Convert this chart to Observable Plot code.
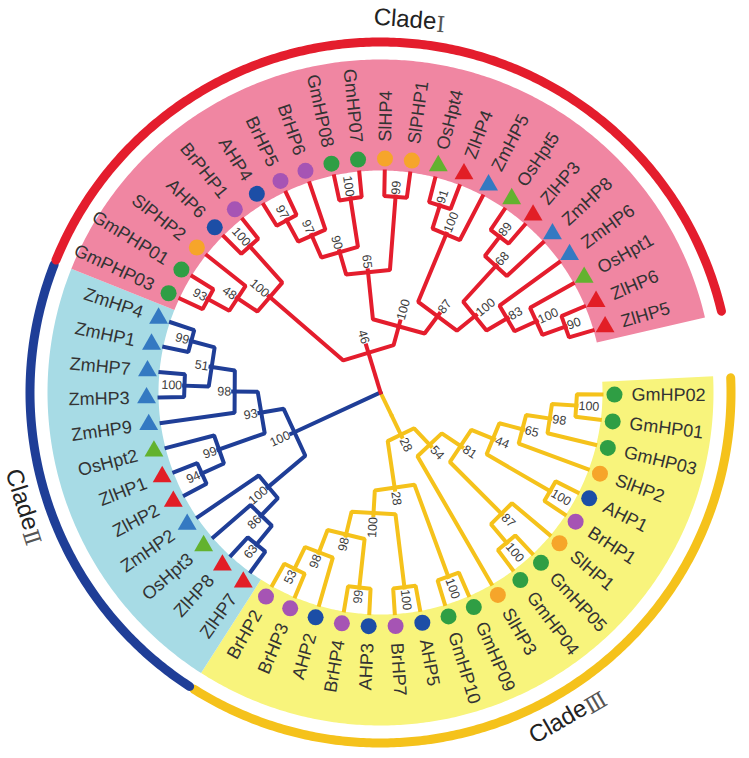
<!DOCTYPE html>
<html><head><meta charset="utf-8">
<script src="https://cdn.jsdelivr.net/npm/d3@7"></script>
<script src="https://cdn.jsdelivr.net/npm/@observablehq/plot@0.6"></script>
<style>body{margin:0;background:#fff} svg{display:block}</style>
</head><body><div id="chart"></div>
<script>
// ---- data: tree topology (Newick, leaves in clockwise order) with bootstrap values ----
const cladeIII = "((((((((GmHP02,GmHP01)100,GmHP03)98,SlHP2)65,(AHP1,BrHP1)100)44,(SlHP1,(GmHP05,GmHP04)100)87)81,SlHP3)54,((GmHP09,GmHP10)100,((AHP5,BrHP7)100,((AHP3,BrHP4)99,(AHP2,(BrHP3,BrHP2)53)98)98)100)28)28";
const cladeII = "((((ZlHP7,ZlHP8)63,OsHpt3)86,ZmHP2)100,(((ZlHP2,ZlHP1)94,OsHpt2)99,(ZmHP9,((ZmHP3,ZmHP7)100,(ZmHP1,ZmHP4)99)51)98)93)100";
const cladeI = "((((GmPHP03,GmPHP01)93,SlPHP2)48,(AHP6,BrPHP1)100)100,(((((AHP4,BrHP5)97,BrHP6)97,(GmHP08,GmHP07)100)90,(SlHP4,SlPHP1)99)65,(((OsHpt4,ZlHP4)91,ZmHP5)100,(((OsHpt5,ZlHP3)89,ZmHP8)68,(ZmHP6,(OsHpt1,(ZlHP6,ZlHP5)90)100)83)100)87)100)46";
const cladeTrees = [cladeIII, cladeII, cladeI];
const cladeWords = ["Clade", "Clade", "Clade"];
const cladeNumerals = ["Ⅲ", "Ⅱ", "Ⅰ"];
const speciesCodes = ["Gm", "Sl", "A", "Br", "Os", "Zm", "Zl"];
const speciesSymbols = ["circle", "circle", "circle", "circle", "triangle", "triangle", "triangle"];

// ---- styles ----
const cladeBranchColors = ["#f5c21b", "#1f3e97", "#e41d2d"];
const cladeSectorColors = ["#f8f47c", "#a7dbe5", "#f086a2"];
const speciesColors = ["#2f9e44", "#f6a52a", "#1c4ea6", "#a654b4", "#63b22f", "#3479c2", "#e21e26"];
const W = 749, H = 758;
const TIP_R = 221, STEP = 6.6, START = 0.5;
const MARK_R = 234, LABEL_R = 251, SEC_IN = 222, SEC_OUT = 333, ARC_R = 350.5, CLADE_R = 374;
const WORD_W = 62, NUM_W = [24, 16, 9];

function parse(s) {
  let i = 0;
  function node() {
    if (s[i] === "(") {
      i++;
      const children = [node()];
      while (s[i] === ",") { i++; children.push(node()); }
      i++;
      let lab = "";
      while (i < s.length && /[0-9]/.test(s[i])) lab += s[i++];
      return {children, support: lab};
    }
    let name = "";
    while (i < s.length && !/[,()]/.test(s[i])) name += s[i++];
    return {name};
  }
  return node();
}
const rootData = {children: cladeTrees.map((t, k) => { const n = parse(t); n.clade = k; return n; })};
const root = d3.hierarchy(rootData);
root.each(n => { if (n.depth >= 1) n.clade = n.depth === 1 ? n.data.clade : n.parent.clade; });
const nLeaves = root.leaves().length;
d3.cluster().size([nLeaves * STEP, TIP_R]).separation(() => 1)(root);
const ang = n => n.x - STEP / 2 + START;
const P = (r, a) => ({x: r * Math.cos(a * Math.PI / 180), y: r * Math.sin(a * Math.PI / 180)});
const isRight = a => { const m = ((a % 360) + 360) % 360; return m < 90 || m > 270; };

// branches
const branchRows = [];
let pid = 0;
root.each(n => {
  if (!n.children) return;
  if (n.depth === 0) {
    n.children.forEach(c => {
      const id = pid++;
      [P(0, ang(c)), P(c.y, ang(c))].forEach(p => branchRows.push({...p, id, clade: c.clade}));
    });
    return;
  }
  const cs = n.children.slice().sort((a, b) => a.x - b.x);
  const id = pid++;
  const pts = [P(cs[0].y, ang(cs[0]))];
  cs.forEach(c => pts.push(P(n.y, ang(c))));
  pts.push(P(cs[cs.length - 1].y, ang(cs[cs.length - 1])));
  pts.forEach(p => branchRows.push({...p, id, clade: n.clade}));
  for (let k = 1; k < cs.length - 1; k++) {
    const id2 = pid++;
    [P(n.y, ang(cs[k])), P(cs[k].y, ang(cs[k]))].forEach(p => branchRows.push({...p, id: id2, clade: n.clade}));
  }
});

// leaves
const leafRows = root.leaves().map(l => {
  const a = ang(l);
  const sp = speciesCodes.findIndex(c => new RegExp("^" + c + "(P?HP|Hpt)").test(l.data.name));
  const m = P(MARK_R, a), t = P(LABEL_R, a);
  return {name: l.data.name, a, mx: m.x, my: m.y, tx: t.x, ty: t.y,
    color: speciesColors[sp], symbol: speciesSymbols[sp],
    right: isRight(a), rot: isRight(a) ? a : a - 180};
});

// bootstrap labels
const bootRows = [];
root.each(n => {
  if (!n.children || n.depth === 0) return;
  const a = ang(n), p = P(n.y + 2, a);
  bootRows.push({...p, text: n.data.support, right: isRight(a), rot: isRight(a) ? a : a - 180});
});

// clade sectors and arcs
const cladeRanges = root.children.map(c => {
  const ls = c.leaves();
  return [ang(ls[0]) - STEP / 2, ang(ls[ls.length - 1]) + STEP / 2];
});
function arcPts(r, a0, a1) {
  const out = [], n = Math.ceil(Math.abs(a1 - a0) / 0.5);
  for (let k = 0; k <= n; k++) out.push(P(r, a0 + (a1 - a0) * k / n));
  return out;
}
const sectorMarks = cladeRanges.map(([a0, a1], k) =>
  Plot.line([...arcPts(SEC_OUT, a0, a1), ...arcPts(SEC_IN, a1, a0)],
    {x: "x", y: "y", fill: cladeSectorColors[k], stroke: "none"}));
const arcMarks = cladeRanges.map(([a0, a1], k) =>
  Plot.line(arcPts(ARC_R, a0 + 0.4, a1 - 0.4), {x: "x", y: "y", stroke: cladeBranchColors[k], strokeWidth: 9}));
const cladeWordRows = [], cladeNumRows = [];
cladeRanges.forEach(([a0, a1], k) => {
  const a = (a0 + a1) / 2, c = P(CLADE_R, a);
  const m = ((a % 360) + 360) % 360;
  const rot = m < 180 ? m - 90 : m - 270;
  const ux = Math.cos(rot * Math.PI / 180), uy = Math.sin(rot * Math.PI / 180);
  const half = (WORD_W + NUM_W[k]) / 2;
  const sx = c.x - ux * half, sy = c.y - uy * half;
  cladeWordRows.push({x: sx, y: sy, text: cladeWords[k], rot});
  cladeNumRows.push({x: sx + ux * (WORD_W + 1) - uy * 3, y: sy + uy * (WORD_W + 1) + ux * 3, text: cladeNumerals[k], rot});
});

const chart = Plot.plot({
  width: W, height: H, margin: 0,
  x: {domain: [-380, W - 380], range: [0, W], axis: null},
  y: {domain: [-392, H - 392], range: [0, H], axis: null},
  color: {type: "identity"},
  style: {background: "#fff", fontFamily: "Liberation Sans, Arial, sans-serif"},
  marks: [
    ...sectorMarks,
    ...arcMarks,
    ...[0, 1, 2].map(k => Plot.line(branchRows.filter(d => d.clade === k),
      {x: "x", y: "y", z: "id", stroke: cladeBranchColors[k], strokeWidth: 4, strokeLinejoin: "miter", strokeLinecap: "square"})),
    Plot.dot(leafRows.filter(d => d.symbol === "circle"), {x: "mx", y: "my", r: 8, fill: "color", stroke: "none"}),
    Plot.dot(leafRows.filter(d => d.symbol !== "circle"), {x: "mx", y: "my", r: 7, fill: "color", stroke: "none", symbol: "triangle"}),
    Plot.text(leafRows.filter(d => d.right), {x: "tx", y: "ty", text: "name", rotate: "rot", textAnchor: "start", lineAnchor: "middle", fontSize: 18, fill: "#333"}),
    Plot.text(leafRows.filter(d => !d.right), {x: "tx", y: "ty", text: "name", rotate: "rot", textAnchor: "end", lineAnchor: "middle", fontSize: 18, fill: "#333"}),
    Plot.text(bootRows.filter(d => d.right), {x: "x", y: "y", text: "text", rotate: "rot", textAnchor: "start", lineAnchor: "middle", fontSize: 12.5, fill: "#3c3c3c"}),
    Plot.text(bootRows.filter(d => !d.right), {x: "x", y: "y", text: "text", rotate: "rot", textAnchor: "end", lineAnchor: "middle", fontSize: 12.5, fill: "#3c3c3c"}),
    Plot.text(cladeWordRows, {x: "x", y: "y", text: "text", rotate: "rot", textAnchor: "start", lineAnchor: "middle", fontSize: 24, fill: "#222"}),
    Plot.text(cladeNumRows, {x: "x", y: "y", text: "text", rotate: "rot", textAnchor: "start", lineAnchor: "middle", fontSize: 22, fill: "#555", fontFamily: "DejaVu Serif, Liberation Serif, serif"})
  ]
});
document.getElementById("chart").appendChild(chart);
</script>
</body></html>
